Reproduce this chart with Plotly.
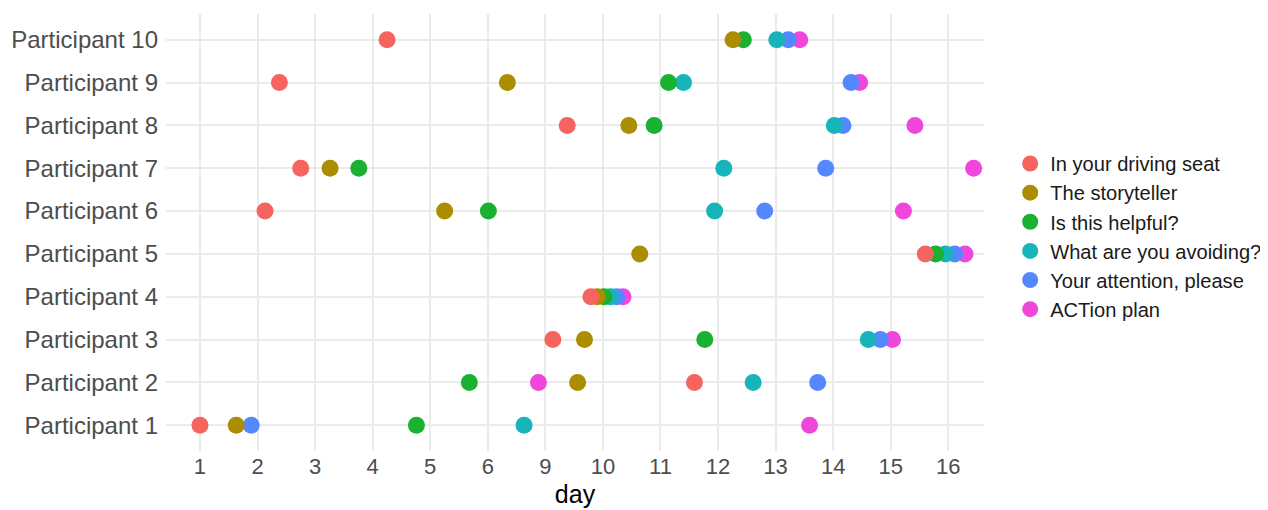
import plotly.graph_objects as go

participants = [f"Participant {i}" for i in range(1, 11)]

# x positions on the day axis (axis units; tick k carries label tick_text[k-1])
tick_pos = list(range(1, 15))
tick_text = ["1", "2", "3", "4", "5", "6", "9", "10", "11", "12", "13", "14", "15", "16"]

series_names = ["In your driving seat", "The storyteller", "Is this helpful?",
                "What are you avoiding?", "Your attention, please", "ACTion plan"]

driving_seat = [1.00, 9.59, 7.13, 7.79, 13.60, 2.13, 2.75, 7.38, 2.38, 4.25]
storyteller  = [1.63, 7.56, 7.68, 7.90, 8.64, 5.25, 3.26, 8.45, 6.34, 10.26]
helpful      = [4.76, 5.68, 9.77, 8.02, 13.78, 6.01, 3.76, 8.89, 9.14, 10.44]
avoiding     = [6.63, 10.61, 12.61, 8.13, 13.95, 9.94, 10.10, 12.02, 9.40, 11.02]
attention    = [1.89, 11.73, 12.82, 8.24, 14.11, 10.81, 11.87, 12.17, 12.31, 11.22]
action_plan  = [11.59, 6.88, 13.03, 8.35, 14.29, 13.22, 14.44, 13.42, 12.46, 11.42]

series_values = [driving_seat, storyteller, helpful, avoiding, attention, action_plan]
colors = ["#F5645E", "#AA8D00", "#1AB032", "#17B5BA", "#5588FF", "#F046DC"]

fig = go.Figure()
# draw in reverse so earlier series sit on top
for name, vals, col in reversed(list(zip(series_names, series_values, colors))):
    fig.add_trace(go.Scatter(
        x=vals, y=participants, mode="markers", name=name,
        marker=dict(size=17, color=col, line=dict(width=0)),
    ))

grid = "#EBEBEB"
fig.update_layout(
    width=1260, height=502,
    margin=dict(l=158, r=284, t=6, b=59, autoexpand=False),
    paper_bgcolor="white", plot_bgcolor="white",
    font=dict(family="Liberation Sans, Arial, sans-serif", color="#4D4D4D"),
    legend=dict(traceorder="reversed", x=1.032, xanchor="left", y=0.491, yanchor="middle",
                font=dict(size=20.1, color="#1A1A1A"), itemsizing="trace",
                bgcolor="rgba(0,0,0,0)", tracegroupgap=0),
    showlegend=True,
)
fig.update_xaxes(
    range=[0.41, 14.62], tickmode="array", tickvals=tick_pos, ticktext=tick_text,
    showgrid=True, gridcolor=grid, gridwidth=1.6, zeroline=False, showline=False,
    ticks="", tickfont=dict(size=22, color="#4D4D4D"), automargin=False,
    title=dict(text="day", font=dict(size=25, color="#000000"), standoff=7),
)
fig.update_yaxes(
    categoryorder="array", categoryarray=participants, range=[-0.6, 9.6],
    showgrid=True, gridcolor=grid, gridwidth=1.6, zeroline=False, showline=False,
    ticks="", tickfont=dict(size=24, color="#4D4D4D"), ticklabelstandoff=7,
    automargin=False,
)
fig.write_html("out.html")
